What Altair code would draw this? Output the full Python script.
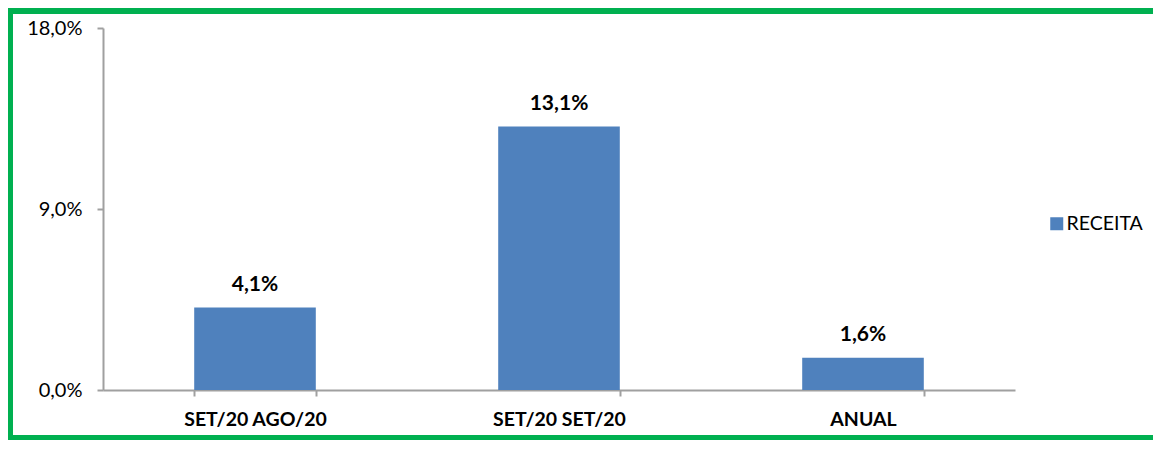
import altair as alt
import pandas as pd

categories = ["SET/20 AGO/20", "SET/20 SET/20", "ANUAL"]
values = [4.1, 13.1, 1.6]
series = ["RECEITA", "RECEITA", "RECEITA"]
y_ticks = [0, 9, 18]

df = pd.DataFrame({"cat": categories, "val": values, "serie": series})

FONT = "Lato"
AXIS_GRAY = "#A0A0A0"
GREEN = "#00B050"

x_enc = alt.X(
    "cat:N",
    sort=categories,
    scale=alt.Scale(paddingInner=0.6, paddingOuter=0.3),
    axis=alt.Axis(
        title=None, labelAngle=0, tickBand="extent",
        domainColor=AXIS_GRAY, tickColor=AXIS_GRAY, domainWidth=2, tickWidth=2,
        tickSize=6, labelFont=FONT, labelFontSize=19.5, labelFontWeight="bold",
        labelColor="#000000", labelPadding=14,
    ),
)
y_enc = alt.Y(
    "val:Q",
    scale=alt.Scale(domain=[0, 18], nice=False),
    axis=alt.Axis(
        title=None, values=y_ticks, grid=False,
        labelExpr="replace(format(datum.value,'.1f'),'.',',') + '%'",
        domainColor=AXIS_GRAY, tickColor=AXIS_GRAY, domainWidth=2, tickWidth=2,
        tickSize=6, labelFont=FONT, labelFontSize=20, labelColor="#000000",
        labelPadding=15,
    ),
)

bars = alt.Chart(df).mark_bar().encode(
    x=x_enc,
    y=y_enc,
    color=alt.Color(
        "serie:N",
        scale=alt.Scale(range=["#4F81BD"]),
        legend=alt.Legend(
            title=None, orient="none", legendX=944, legendY=186,
            symbolType="square", symbolSize=169, symbolStrokeWidth=0,
            labelFont=FONT, labelFontSize=19.5, labelColor="#000000",
            labelOffset=0, padding=0,
        ),
    ),
)

labels = alt.Chart(df).transform_calculate(
    lbl="replace(format(datum.val,'.1f'),'.',',') + '%'"
).mark_text(
    font=FONT, fontSize=21, fontWeight="bold", color="#000000",
    baseline="alphabetic", dy=-16.5,
).encode(x=alt.X("cat:N", sort=categories), y="val:Q", text="lbl:N")

one = alt.Data(values=[{"a": 1}])
border_top = alt.Chart(one).mark_rect(fill=GREEN).encode(
    x=alt.value(-96), x2=alt.value(1050), y=alt.value(-20), y2=alt.value(-14))
border_left = alt.Chart(one).mark_rect(fill=GREEN).encode(
    x=alt.value(-96), x2=alt.value(-90), y=alt.value(-20), y2=alt.value(412))
border_bottom = alt.Chart(one).mark_rect(fill=GREEN).encode(
    x=alt.value(-96), x2=alt.value(1050), y=alt.value(407), y2=alt.value(412))

chart = alt.layer(bars, labels, border_top, border_left, border_bottom).properties(
    width=912, height=362,
    autosize=alt.AutoSizeParams(type="none"),
    padding={"left": 95, "top": 20, "right": 143, "bottom": 50},
).configure_view(stroke=None)

chart.save("out.html", embed_options={"renderer": "svg", "actions": False})
